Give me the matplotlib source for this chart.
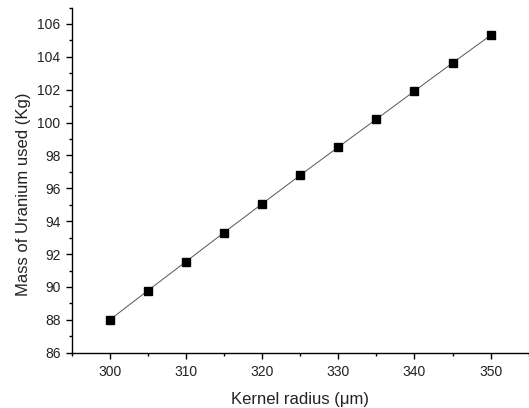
import matplotlib
matplotlib.use("Agg")
import matplotlib.pyplot as plt
from matplotlib.ticker import MultipleLocator

radius = [300, 305, 310, 315, 320, 325, 330, 335, 340, 345, 350]
mass = [88.0, 89.78, 91.54, 93.31, 95.06, 96.80, 98.51, 100.21, 101.92, 103.63, 105.31]

plt.rcParams['font.family'] = ['Liberation Sans', 'DejaVu Sans']

fig = plt.figure(figsize=(5.29, 4.08), dpi=100)
ax = fig.add_axes([0.1355, 0.1355, 0.864, 0.846])
ax.plot(radius, mass, color='#555555', lw=0.7, marker='s', ms=5.5,
        mfc='black', mec='black')
ax.set_xlim(295, 355)
ax.set_ylim(86, 107)
ax.xaxis.set_major_locator(MultipleLocator(10))
ax.xaxis.set_minor_locator(MultipleLocator(5))
ax.yaxis.set_major_locator(MultipleLocator(2))
ax.yaxis.set_minor_locator(MultipleLocator(1))
for s in ['top', 'right']:
    ax.spines[s].set_visible(False)
for s in ['left', 'bottom']:
    ax.spines[s].set_linewidth(1.0)
ax.tick_params(which='major', direction='out', length=4, width=1, labelsize=10,
               labelcolor='#222222', pad=4)
ax.tick_params(axis='x', which='major', pad=5)
ax.tick_params(which='minor', direction='out', length=2.5, width=1)
ax.set_xlabel('Kernel radius (μm)', fontsize=12, labelpad=9, color='#222222')
ax.set_ylabel('Mass of Uranium used (Kg)', fontsize=12, color='#222222')
ax.yaxis.set_label_coords(-0.088, 0.46)
fig.savefig('out.png', dpi=100)
